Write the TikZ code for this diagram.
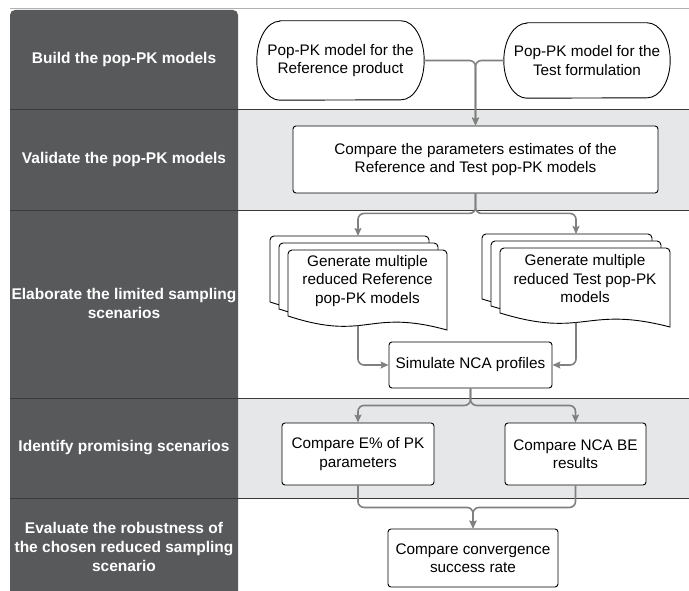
\documentclass[tikz,border=0pt]{standalone}
\usepackage{fontspec}
\setmainfont{Liberation Sans}
\usetikzlibrary{arrows.meta,positioning,calc}
\definecolor{lanedark}{HTML}{58595B}
\definecolor{lanegray}{HTML}{E6E7E8}
\definecolor{flowgray}{HTML}{808080}
\definecolor{laneline}{HTML}{3A3A3A}
% page with a wavy bottom: #1,#2 top left, #3 width, #4 height
\newcommand{\docpage}[4]{%
  \draw[fill=white, line width=0.9pt] (#1,#2+#4-14) [rounded corners=4pt] -- (#1,#2) -- (#1+#3,#2) [sharp corners] -- (#1+#3,#2+#4)
    .. controls (#1+#3/2,#2+#4-22) and (#1+#3/2,#2+#4+12) .. (#1,#2+#4-14) -- cycle;}
% stadium outline round a node: #1 node, #2 half height
\newcommand{\stadium}[2]{%
  \draw[line width=0.9pt] ([xshift=23pt]#1.north west) -- ([xshift=-23pt]#1.north east)
    arc[start angle=90, end angle=-90, x radius=23pt, y radius=#2]
    -- ([xshift=23pt]#1.south west)
    arc[start angle=270, end angle=90, x radius=23pt, y radius=#2] -- cycle;}

\begin{document}
\begin{tikzpicture}[
  x=1pt, y=-1pt,
  >={Stealth[length=8pt,width=7pt,inset=1.5pt]},
  every node/.style={font=\fontsize{15.3}{18.5}\selectfont, align=center, inner sep=0pt},
  lanetext/.style={text=white, font=\fontsize{15.5}{19}\selectfont\bfseries},
  box/.style={draw, fill=white, rounded corners=3pt, line width=0.9pt},
  flow/.style={->, draw=flowgray, line width=1.6pt, rounded corners=6pt}
]
\useasboundingbox (0,0) rectangle (689,591);

% lanes
\fill[lanegray] (238,110) rectangle (689,211);
\fill[lanegray] (238,398) rectangle (689,498);
\fill[lanedark] (10,591) [rounded corners=5pt] -- (10,10) -- (238,10) [sharp corners] -- (238,591) -- cycle;
\draw[gray!60, line width=1pt] (10,9) -- (689,9);
\foreach \y in {110,211,398,498}
  \draw[laneline, line width=1pt] (10,\y) -- (689,\y);

\node[lanetext] (BuildLane) at (124,59) {Build the pop-PK models};
\node[lanetext] (CheckLane) at (124,159) {Validate the pop-PK models};
\node[lanetext] (SampLane) at (124,303) {Elaborate the limited sampling\\scenarios};
\node[lanetext] (PickLane) at (124,448) {Identify promising scenarios};
\node[lanetext] (RobustLane) at (124,547) {Evaluate the robustness of\\the chosen reduced sampling\\scenario};

% models
\node[minimum width=167pt, minimum height=79pt] (RefPK) at (340.5,60.5) {Pop-PK model for the\\Reference product};
\stadium{RefPK}{39.5pt}
\node[minimum width=166pt, minimum height=75pt] (TestPK) at (587,60.5) {Pop-PK model for the\\Test formulation};
\stadium{TestPK}{37.5pt}

\node[box, minimum width=365pt, minimum height=67pt] (Cmp) at (475.5,159.5) {Compare the parameters estimates of the\\Reference and Test pop-PK models};

% reduced model stacks
\docpage{270}{236}{159}{80}
\docpage{279}{243}{159}{80}
\docpage{288}{250}{159}{80}
\node (RefDoc) at (367.5,281) {Generate multiple\\reduced Reference\\pop-PK models};
\docpage{482}{234}{170}{79}
\docpage{491}{241}{170}{79}
\docpage{500}{248}{170}{79}
\node (TestDoc) at (585,279) {Generate multiple\\reduced Test pop-PK\\models};
\coordinate (RefTop) at (358,236);
\coordinate (TestTop) at (576,234);
\coordinate (RefOut) at (358,325.6);
\coordinate (TestOut) at (576,322.6);

\node[box, minimum width=163pt, minimum height=46pt] (Sim) at (470.5,365) {Simulate NCA profiles};
\node[box, minimum width=152pt, minimum height=62pt] (CmpE) at (358,454) {Compare E\% of PK\\parameters};
\node[box, minimum width=141pt, minimum height=62pt] (CmpBE) at (575.5,454) {Compare NCA BE\\results};
\node[box, minimum width=170pt, minimum height=58pt] (Conv) at (473,558) {Compare convergence\\success rate};

% connectors
\draw[flow] (RefPK.east) -| (Cmp.north);
\draw[flow] (TestPK.west) -| (Cmp.north);
\draw[flow] (Cmp.south) -- ++(0,20) -| (RefTop);
\draw[flow] (Cmp.south) -- ++(0,20) -| (TestTop);
\draw[flow] (RefOut) |- (Sim.west);
\draw[flow] (TestOut) |- (Sim.east);
\draw[flow] (Sim.south) -- ++(0,17) -| (CmpE.north);
\draw[flow] (Sim.south) -- ++(0,17) -| (CmpBE.north);
\draw[flow] (CmpE.south) -- ++(0,22) -| (Conv.north);
\draw[flow] (CmpBE.south) -- ++(0,22) -| (Conv.north);

\end{tikzpicture}
\end{document}
